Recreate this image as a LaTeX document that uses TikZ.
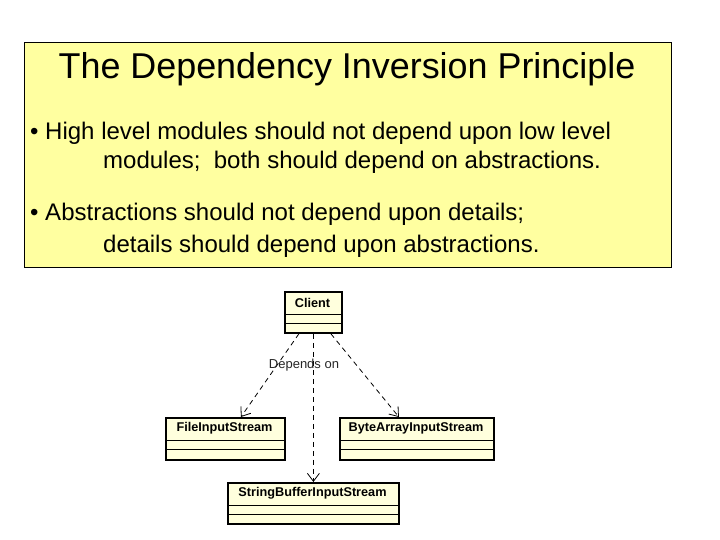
\documentclass[tikz,border=0pt]{standalone}
\usepackage{fontspec}
\setmainfont{Liberation Sans}
\usetikzlibrary{arrows.meta,calc}
\definecolor{noteyellow}{RGB}{255,255,160}
\definecolor{clsyellow}{RGB}{255,255,221}
\tikzset{
  note/.style={draw=black, line width=0.8pt, fill=noteyellow},
  cls/.style={draw=black, line width=1.8pt, fill=clsyellow, inner sep=0pt},
  clsname/.style={font=\fontsize{12.7}{14}\selectfont\bfseries, inner sep=0pt},
  sep/.style={draw=black, line width=1pt},
  dep/.style={draw=black, line width=0.8pt, dash pattern=on 5pt off 4pt, -{Straight Barb[length=8pt,width=12pt,line width=0.8pt]}},
  bodytext/.style={font=\fontsize{24}{28}\selectfont, anchor=west, inner sep=0pt},
}
\newcommand{\umlcls}[6]{%
  \node[cls, minimum width=#4-#2, minimum height=#5-#3, anchor=north west] (#1) at (#2,#3) {};
  \node[clsname] (#1name) at ($(#2,#3)!0.5!(#4,#3)+(0,11.5)$) {#6};
  \draw[sep] (#2,#3+23) -- (#4,#3+23);
  \draw[sep] (#2,#3+32) -- (#4,#3+32);
}
\begin{document}
\begin{tikzpicture}[x=1pt,y=-1pt]
\useasboundingbox (0,0) rectangle (720,540);
\fill[white] (0,0) rectangle (720,540);
\node[note, minimum width=647, minimum height=225, anchor=north west] (note) at (24,42) {};
\node[font=\fontsize{35.9}{40}\selectfont, inner sep=0pt] (title) at (347,69) {The Dependency Inversion Principle};
\node[bodytext] (b1) at (30,133) {• High level modules should not depend upon low level};
\node[bodytext] (b1b) at (103,162) {modules;\ \ both should depend on abstractions.};
\node[bodytext] (b2) at (30,214) {• Abstractions should not depend upon details;};
\node[bodytext] (b2b) at (103,246) {details should depend upon abstractions.};

\umlcls{client}{284}{291}{341}{332}{Client}
\umlcls{file}{165}{417}{284}{459}{FileInputStream}
\umlcls{byte}{339}{417}{493}{459}{ByteArrayInputStream}
\umlcls{sbuf}{227}{482}{398}{523}{StringBufferInputStream}

\draw[dep] ($(client.south)+(-14.5,0)$) -- ($(file.north)+(15.5,0)$);
\draw[dep] (client.south) -- (sbuf.north);
\draw[dep] ($(client.south)+(17.5,0)$) -- ($(byte.north)+(-18,0)$);
\node[font=\fontsize{13}{15}\selectfont, text=black!85, inner sep=0pt] (deplabel) at (304,365) {Depends on};
\end{tikzpicture}
\end{document}
